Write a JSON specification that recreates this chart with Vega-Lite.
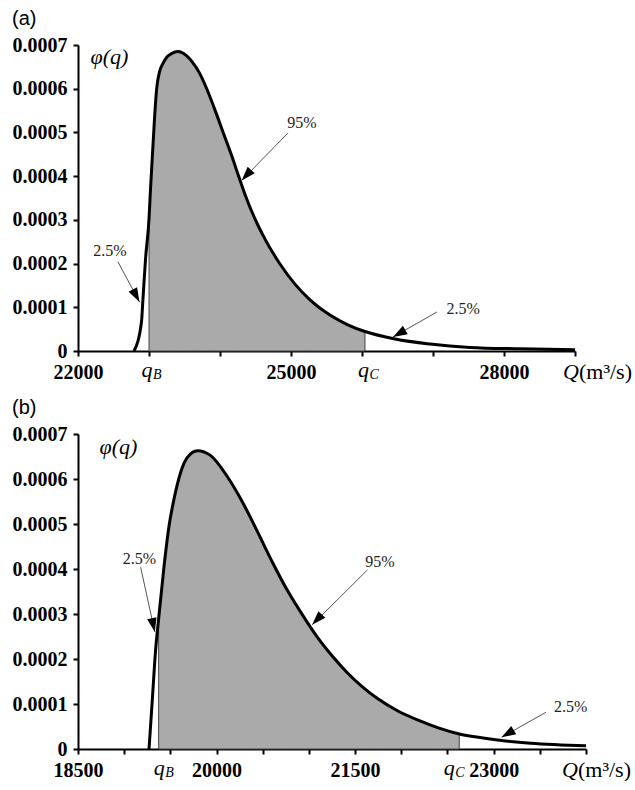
{
  "$schema": "https://vega.github.io/schema/vega-lite/v6.json",
  "background": "white",
  "padding": {"left": 12, "top": 9, "right": 0, "bottom": 0},
  "bounds": "flush",
  "spacing": 83,
  "datasets": {
    "curveA": [
      {"q": 22789, "phi": 0},
      {"q": 22894, "phi": 0.0000664},
      {"q": 22915, "phi": 0.000119},
      {"q": 22951, "phi": 0.00021},
      {"q": 23000, "phi": 0.000302},
      {"q": 23021, "phi": 0.00037},
      {"q": 23049, "phi": 0.00045},
      {"q": 23077, "phi": 0.00053},
      {"q": 23108, "phi": 0.0006},
      {"q": 23150, "phi": 0.00064},
      {"q": 23197, "phi": 0.000658},
      {"q": 23250, "phi": 0.000672},
      {"q": 23324, "phi": 0.000681},
      {"q": 23404, "phi": 0.000685},
      {"q": 23493, "phi": 0.00068},
      {"q": 23606, "phi": 0.000662},
      {"q": 23718, "phi": 0.000634},
      {"q": 23813, "phi": 0.0006},
      {"q": 23930, "phi": 0.000551},
      {"q": 24042, "phi": 0.000501},
      {"q": 24155, "phi": 0.000451},
      {"q": 24258, "phi": 0.000402},
      {"q": 24352, "phi": 0.000358},
      {"q": 24493, "phi": 0.000302},
      {"q": 24634, "phi": 0.000256},
      {"q": 24845, "phi": 0.000199},
      {"q": 25056, "phi": 0.000153},
      {"q": 25268, "phi": 0.000117},
      {"q": 25549, "phi": 0.0000824},
      {"q": 25800, "phi": 0.00006},
      {"q": 26042, "phi": 0.0000446},
      {"q": 26465, "phi": 0.0000275},
      {"q": 26958, "phi": 0.000016},
      {"q": 27521, "phi": 0.0000082},
      {"q": 28225, "phi": 0.000005},
      {"q": 29000, "phi": 0.0000027}
    ],
    "curveB": [
      {"q": 19269, "phi": 0},
      {"q": 19305, "phi": 0.000111},
      {"q": 19341, "phi": 0.000222},
      {"q": 19373, "phi": 0.000289},
      {"q": 19432, "phi": 0.000407},
      {"q": 19486, "phi": 0.000496},
      {"q": 19540, "phi": 0.000556},
      {"q": 19612, "phi": 0.000615},
      {"q": 19684, "phi": 0.000648},
      {"q": 19793, "phi": 0.000663},
      {"q": 19937, "phi": 0.000652},
      {"q": 20118, "phi": 0.000605},
      {"q": 20280, "phi": 0.000549},
      {"q": 20443, "phi": 0.000483},
      {"q": 20605, "phi": 0.000415},
      {"q": 20768, "phi": 0.000352},
      {"q": 20930, "phi": 0.000298},
      {"q": 21093, "phi": 0.000248},
      {"q": 21255, "phi": 0.000206},
      {"q": 21418, "phi": 0.000169},
      {"q": 21580, "phi": 0.000138},
      {"q": 21743, "phi": 0.000112},
      {"q": 21959, "phi": 0.0000849},
      {"q": 22176, "phi": 0.0000645},
      {"q": 22393, "phi": 0.0000475},
      {"q": 22628, "phi": 0.0000335},
      {"q": 22850, "phi": 0.0000255},
      {"q": 23043, "phi": 0.00002},
      {"q": 23400, "phi": 0.0000128},
      {"q": 24000, "phi": 0.0000072}
    ],
    "arrowsA": [
      {"id": "a95", "x1": 24958, "y1": 0.000499, "x2": 24305, "y2": 0.00039},
      {"id": "aR", "x1": 27056, "y1": 0.0000892, "x2": 26437, "y2": 0.000032},
      {"id": "aL", "x1": 22563, "y1": 0.000204, "x2": 22866, "y2": 0.000112}
    ],
    "labelsA": [
      {"t": "95%", "x": 25155, "y": 0.000522},
      {"t": "2.5%", "x": 27423, "y": 0.0000961},
      {"t": "2.5%", "x": 22451, "y": 0.000229}
    ],
    "arrowsB": [
      {"id": "bL", "x1": 19178, "y1": 0.000404, "x2": 19332, "y2": 0.00026},
      {"id": "b95", "x1": 21634, "y1": 0.000398, "x2": 21035, "y2": 0.000276},
      {"id": "bR", "x1": 23566, "y1": 0.0000816, "x2": 23086, "y2": 0.000026}
    ],
    "labelsB": [
      {"t": "2.5%", "x": 19164, "y": 0.000422},
      {"t": "95%", "x": 21770, "y": 0.000416},
      {"t": "2.5%", "x": 23834, "y": 0.0000933}
    ],
    "qA": [
      {"lx": 22972, "sym": "q", "sub": "B"},
      {"lx": 26021, "sym": "q", "sub": "C"}
    ],
    "qB": [
      {"lx": 19381, "sym": "q", "sub": "B"},
      {"lx": 22519, "sym": "q", "sub": "C"}
    ],
    "unitA": [{"q": 29000, "sym": "Q", "unit": "(m³/s)"}],
    "unitB": [{"q": 24000, "sym": "Q", "unit": "(m³/s)"}]
  },
  "vconcat": [
    {
      "width": 497,
      "height": 306,
      "title": {"text": "(a)"},
      "layer": [
        {
          "data": {"name": "curveA"},
          "transform": [{"filter": "datum.q >= 23000 && datum.q <= 26042"}],
          "mark": {"type": "area", "color": "#aaaaaa", "stroke": "#444444", "strokeWidth": 1, "interpolate": "monotone"},
          "encoding": {
            "x": {"field": "q", "type": "quantitative",
              "scale": {"domain": [22000, 29000], "nice": false, "zero": false},
              "axis": {"title": null,
                "values": [22000, 22500, 23000, 23500, 24000, 24500, 25000, 25500, 26000, 26500, 27000, 27500, 28000, 28500, 29000],
                "labelExpr": "(datum.value == 22000 || datum.value == 25000 || datum.value == 28000) ? '' + datum.value : ''"}},
            "y": {"field": "phi", "type": "quantitative",
              "scale": {"domain": [0, 0.0007], "nice": false},
              "axis": {"title": "φ(q)",
                "values": [0, 0.0001, 0.0002, 0.0003, 0.0004, 0.0005, 0.0006, 0.0007],
                "labelExpr": "datum.value == 0 ? '0' : format(datum.value, '.4f')",
                "titleX": 12, "titleY": 11}}
          }
        },
        {
          "data": {"name": "curveA"},
          "mark": {"type": "line", "color": "black", "strokeWidth": 3, "interpolate": "monotone"},
          "encoding": {
            "x": {"field": "q", "type": "quantitative"},
            "y": {"field": "phi", "type": "quantitative"}
          }
        },
        {
          "data": {"name": "arrowsA"},
          "mark": {"type": "rule", "color": "#555555", "strokeWidth": 1},
          "encoding": {
            "x": {"field": "x1", "type": "quantitative"},
            "y": {"field": "y1", "type": "quantitative"},
            "x2": {"field": "x2"},
            "y2": {"field": "y2"}
          }
        },
        {
          "data": {"name": "arrowsA"},
          "transform": [{"filter": "datum.id == 'a95'"}],
          "mark": {"type": "point", "shape": "M0,0L-0.34,1L0.34,1Z", "size": 800, "filled": true, "color": "black", "opacity": 1, "angle": 222.5},
          "encoding": {
            "x": {"field": "x2", "type": "quantitative"},
            "y": {"field": "y2", "type": "quantitative"}
          }
        },
        {
          "data": {"name": "arrowsA"},
          "transform": [{"filter": "datum.id == 'aR'"}],
          "mark": {"type": "point", "shape": "M0,0L-0.34,1L0.34,1Z", "size": 800, "filled": true, "color": "black", "opacity": 1, "angle": 240.4},
          "encoding": {
            "x": {"field": "x2", "type": "quantitative"},
            "y": {"field": "y2", "type": "quantitative"}
          }
        },
        {
          "data": {"name": "arrowsA"},
          "transform": [{"filter": "datum.id == 'aL'"}],
          "mark": {"type": "point", "shape": "M0,0L-0.34,1L0.34,1Z", "size": 800, "filled": true, "color": "black", "opacity": 1, "angle": 151.9},
          "encoding": {
            "x": {"field": "x2", "type": "quantitative"},
            "y": {"field": "y2", "type": "quantitative"}
          }
        },
        {
          "data": {"name": "labelsA"},
          "mark": {"type": "text", "font": "Liberation Serif", "fontSize": 16, "color": "#222222", "align": "center", "baseline": "middle"},
          "encoding": {
            "x": {"field": "x", "type": "quantitative"},
            "y": {"field": "y", "type": "quantitative"},
            "text": {"field": "t"}
          }
        },
        {
          "data": {"name": "qA"},
          "mark": {"type": "text", "font": "Liberation Serif", "fontStyle": "italic", "fontSize": 22, "color": "black", "align": "center", "baseline": "alphabetic", "dy": 26},
          "encoding": {
            "x": {"field": "lx", "type": "quantitative"},
            "y": {"datum": 0, "type": "quantitative"},
            "text": {"field": "sym"}
          }
        },
        {
          "data": {"name": "qA"},
          "mark": {"type": "text", "font": "Liberation Serif", "fontStyle": "italic", "fontSize": 14, "color": "black", "align": "left", "baseline": "alphabetic", "dx": 6, "dy": 28},
          "encoding": {
            "x": {"field": "lx", "type": "quantitative"},
            "y": {"datum": 0, "type": "quantitative"},
            "text": {"field": "sub"}
          }
        },
        {
          "data": {"name": "unitA"},
          "mark": {"type": "text", "font": "Liberation Serif", "fontStyle": "italic", "fontSize": 22, "color": "black", "align": "right", "baseline": "alphabetic", "dx": 4, "dy": 28},
          "encoding": {
            "x": {"field": "q", "type": "quantitative"},
            "y": {"datum": 0, "type": "quantitative"},
            "text": {"field": "sym"}
          }
        },
        {
          "data": {"name": "unitA"},
          "mark": {"type": "text", "font": "Liberation Serif", "fontSize": 22, "color": "black", "align": "right", "baseline": "alphabetic", "dx": 57, "dy": 28},
          "encoding": {
            "x": {"field": "q", "type": "quantitative"},
            "y": {"datum": 0, "type": "quantitative"},
            "text": {"field": "unit"}
          }
        }
      ]
    },
    {
      "width": 508,
      "height": 315,
      "title": {"text": "(b)"},
      "layer": [
        {
          "data": {"name": "curveB"},
          "transform": [{"filter": "datum.q >= 19373 && datum.q <= 22628"}],
          "mark": {"type": "area", "color": "#aaaaaa", "stroke": "#444444", "strokeWidth": 1, "interpolate": "monotone"},
          "encoding": {
            "x": {"field": "q", "type": "quantitative",
              "scale": {"domain": [18500, 24000], "nice": false, "zero": false},
              "axis": {"title": null,
                "values": [18500, 19000, 19500, 20000, 20500, 21000, 21500, 22000, 22500, 23000, 23500, 24000],
                "labelExpr": "(datum.value == 18500 || datum.value == 20000 || datum.value == 21500 || datum.value == 23000) ? '' + datum.value : ''"}},
            "y": {"field": "phi", "type": "quantitative",
              "scale": {"domain": [0, 0.0007], "nice": false},
              "axis": {"title": "φ(q)",
                "values": [0, 0.0001, 0.0002, 0.0003, 0.0004, 0.0005, 0.0006, 0.0007],
                "labelExpr": "datum.value == 0 ? '0' : format(datum.value, '.4f')",
                "titleX": 21, "titleY": 12}}
          }
        },
        {
          "data": {"name": "curveB"},
          "mark": {"type": "line", "color": "black", "strokeWidth": 3, "interpolate": "monotone"},
          "encoding": {
            "x": {"field": "q", "type": "quantitative"},
            "y": {"field": "phi", "type": "quantitative"}
          }
        },
        {
          "data": {"name": "arrowsB"},
          "mark": {"type": "rule", "color": "#555555", "strokeWidth": 1},
          "encoding": {
            "x": {"field": "x1", "type": "quantitative"},
            "y": {"field": "y1", "type": "quantitative"},
            "x2": {"field": "x2"},
            "y2": {"field": "y2"}
          }
        },
        {
          "data": {"name": "arrowsB"},
          "transform": [{"filter": "datum.id == 'bL'"}],
          "mark": {"type": "point", "shape": "M0,0L-0.34,1L0.34,1Z", "size": 800, "filled": true, "color": "black", "opacity": 1, "angle": 167.6},
          "encoding": {
            "x": {"field": "x2", "type": "quantitative"},
            "y": {"field": "y2", "type": "quantitative"}
          }
        },
        {
          "data": {"name": "arrowsB"},
          "transform": [{"filter": "datum.id == 'b95'"}],
          "mark": {"type": "point", "shape": "M0,0L-0.34,1L0.34,1Z", "size": 800, "filled": true, "color": "black", "opacity": 1, "angle": 223.6},
          "encoding": {
            "x": {"field": "x2", "type": "quantitative"},
            "y": {"field": "y2", "type": "quantitative"}
          }
        },
        {
          "data": {"name": "arrowsB"},
          "transform": [{"filter": "datum.id == 'bR'"}],
          "mark": {"type": "point", "shape": "M0,0L-0.34,1L0.34,1Z", "size": 800, "filled": true, "color": "black", "opacity": 1, "angle": 239.2},
          "encoding": {
            "x": {"field": "x2", "type": "quantitative"},
            "y": {"field": "y2", "type": "quantitative"}
          }
        },
        {
          "data": {"name": "labelsB"},
          "mark": {"type": "text", "font": "Liberation Serif", "fontSize": 16, "color": "#222222", "align": "center", "baseline": "middle"},
          "encoding": {
            "x": {"field": "x", "type": "quantitative"},
            "y": {"field": "y", "type": "quantitative"},
            "text": {"field": "t"}
          }
        },
        {
          "data": {"name": "qB"},
          "mark": {"type": "text", "font": "Liberation Serif", "fontStyle": "italic", "fontSize": 22, "color": "black", "align": "center", "baseline": "alphabetic", "dy": 26},
          "encoding": {
            "x": {"field": "lx", "type": "quantitative"},
            "y": {"datum": 0, "type": "quantitative"},
            "text": {"field": "sym"}
          }
        },
        {
          "data": {"name": "qB"},
          "mark": {"type": "text", "font": "Liberation Serif", "fontStyle": "italic", "fontSize": 14, "color": "black", "align": "left", "baseline": "alphabetic", "dx": 6, "dy": 28},
          "encoding": {
            "x": {"field": "lx", "type": "quantitative"},
            "y": {"datum": 0, "type": "quantitative"},
            "text": {"field": "sub"}
          }
        },
        {
          "data": {"name": "unitB"},
          "mark": {"type": "text", "font": "Liberation Serif", "fontStyle": "italic", "fontSize": 22, "color": "black", "align": "right", "baseline": "alphabetic", "dx": -8, "dy": 28},
          "encoding": {
            "x": {"field": "q", "type": "quantitative"},
            "y": {"datum": 0, "type": "quantitative"},
            "text": {"field": "sym"}
          }
        },
        {
          "data": {"name": "unitB"},
          "mark": {"type": "text", "font": "Liberation Serif", "fontSize": 22, "color": "black", "align": "right", "baseline": "alphabetic", "dx": 45, "dy": 28},
          "encoding": {
            "x": {"field": "q", "type": "quantitative"},
            "y": {"datum": 0, "type": "quantitative"},
            "text": {"field": "unit"}
          }
        }
      ]
    }
  ],
  "config": {
    "view": {"stroke": null},
    "axis": {
      "domainColor": "black", "domainWidth": 2,
      "tickColor": "black", "tickWidth": 2, "tickSize": 5,
      "labelFont": "Liberation Serif", "labelFontWeight": "bold", "labelFontSize": 20, "labelColor": "black",
      "labelPadding": 6, "labelFlush": false, "labelOverlap": false, "grid": false,
      "titleAngle": 0, "titleAlign": "left", "titleBaseline": "middle",
      "titleFont": "Liberation Serif", "titleFontStyle": "italic", "titleFontWeight": "normal", "titleFontSize": 22, "titleColor": "black"
    },
    "title": {"anchor": "start", "frame": "bounds", "font": "Liberation Sans", "fontSize": 20, "fontWeight": "normal", "color": "black", "offset": 6}
  }
}
